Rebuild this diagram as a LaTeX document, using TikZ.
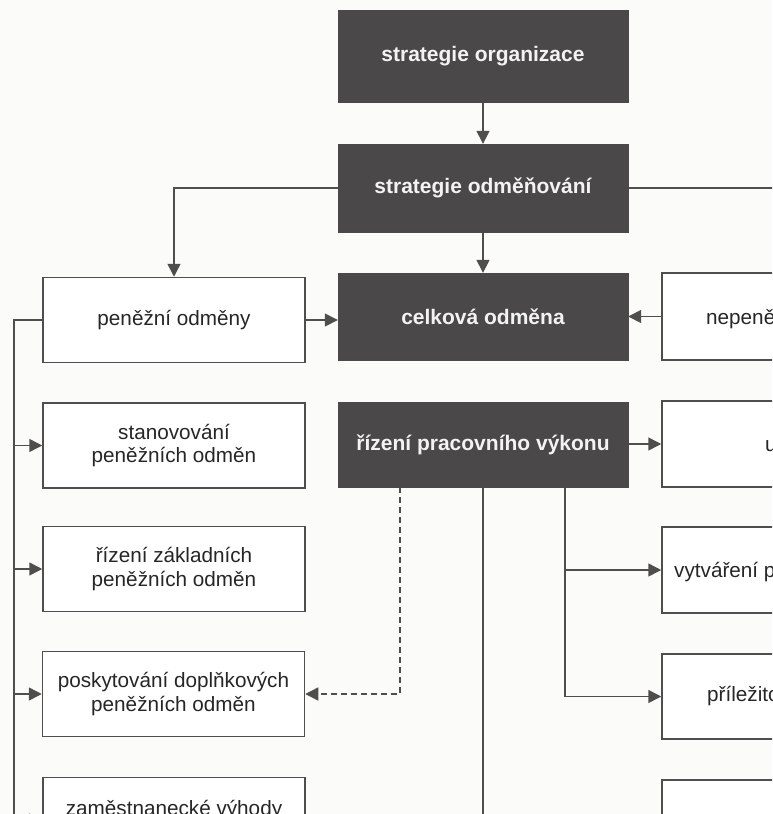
\documentclass[tikz,border=0pt]{standalone}
\usepackage{fontspec}
\setmainfont{Liberation Sans}
\usetikzlibrary{arrows.meta}
\definecolor{boxdark}{HTML}{4A4848}
\definecolor{ink}{HTML}{4F4D4D}
\definecolor{paper}{HTML}{FBFBFA}
\definecolor{lighttext}{HTML}{F3F3F3}
\tikzset{
  darkbox/.style={fill=boxdark, draw=boxdark, minimum width=290pt, minimum height=87pt,
    text=lighttext, font=\fontsize{21}{24}\selectfont\bfseries, align=center, inner sep=0pt},
  lightbox/.style={fill=white, draw=ink, line width=1.5pt, minimum width=262pt, minimum height=85pt,
    text=black!85, font=\fontsize{20.7}{23.5}\selectfont, align=center, inner sep=0pt},
  plaintext/.style={text=black!85, font=\fontsize{20.7}{23.5}\selectfont, inner sep=0pt, anchor=west},
  link/.style={draw=ink, line width=1.5pt},
  arr/.style={link, -{Triangle[length=13pt,width=13pt]}},
}
\begin{document}
\begin{tikzpicture}[x=1pt,y=-1pt]
\useasboundingbox (0,0) rectangle (772,814);
\fill[paper] (0,0) rectangle (772,814);
\clip (0,0) rectangle (772,814);

% central column
\node[darkbox, minimum height=92pt] (org) at (483,56) {strategie organizace};
\node[darkbox, minimum height=88pt] (odm) at (483,188) {strategie odměňování};
\node[darkbox] (cel) at (483,316.5) {celková odměna};
\node[darkbox, minimum height=85pt] (rpv) at (483,444.5) {řízení pracovního výkonu};

% left column: financial rewards
\node[lightbox] (pen) at (174,320) {peněžní odměny};
\node[lightbox] (stan) at (174,445.5) {stanovování\\peněžních odměn};
\node[lightbox] (zakl) at (174,569) {řízení základních\\peněžních odměn};
\node[lightbox] (dopl) at (173.5,694) {poskytování doplňkových\\peněžních odměn};
\node[lightbox] (vyh) at (174,820) {zaměstnanecké výhody\\};

% right column: non-financial rewards
\node[lightbox, minimum width=263pt, minimum height=87pt] (nepen) at (793.5,316.5) {};
\node[plaintext] (nepent) at (706,319) {nepeněžní odměny};
\node[lightbox, minimum width=263pt, minimum height=86pt] (uzn) at (793.5,444) {};
\node[plaintext] (uznt) at (765,444) {uznání};
\node[lightbox, minimum width=263pt, minimum height=86pt] (vytv) at (793.5,570) {};
\node[plaintext] (vytvt) at (674,572) {vytváření pracovního prostředí};
\node[lightbox, minimum width=263pt, minimum height=85pt] (pril) at (793.5,696.5) {};
\node[plaintext] (prilt) at (707,696) {příležitosti k rozvoji};
\node[lightbox, minimum width=263pt, minimum height=86pt] (dalsi) at (793.5,823) {};

% rail and branch points
\coordinate (railtop) at (14,320);
\coordinate (railbot) at (14,830);
\coordinate (rightend) at (780,188);
\coordinate (dashtop) at (400,487);
\coordinate (midbot) at (483,830);
\coordinate (branchtop) at (565,487);

% strategy flow
\draw[arr] (org) -- (odm);
\draw[arr] (odm) -- (cel);
\draw[arr] (odm.west) -| (pen.north);
\draw[link] (odm.east) -- (rightend);

% into total reward
\draw[arr] (pen.east) -- (cel.west |- pen.east);
\draw[arr] (nepen.west |- cel.east) -- (cel.east);

% financial rewards rail
\draw[link] (pen.west) -- (railtop) -- (railbot);
\draw[arr] (railtop |- stan.west) -- (stan.west);
\draw[arr] (railtop |- zakl.west) -- (zakl.west);
\draw[arr] (railtop |- dopl.west) -- (dopl.west);
\draw[arr] (railtop |- vyh.west) -- (vyh.west);

% performance management
\draw[arr] (rpv.east |- uzn.west) -- (uzn.west);
\draw[arr, dashed, dash pattern=on 6pt off 4pt] (dashtop) |- (dopl.east);
\draw[link] (rpv.south) -- (midbot);
\draw[arr] (branchtop) |- (pril.west);
\draw[arr] (branchtop |- vytv.west) -- (vytv.west);
\end{tikzpicture}
\end{document}
